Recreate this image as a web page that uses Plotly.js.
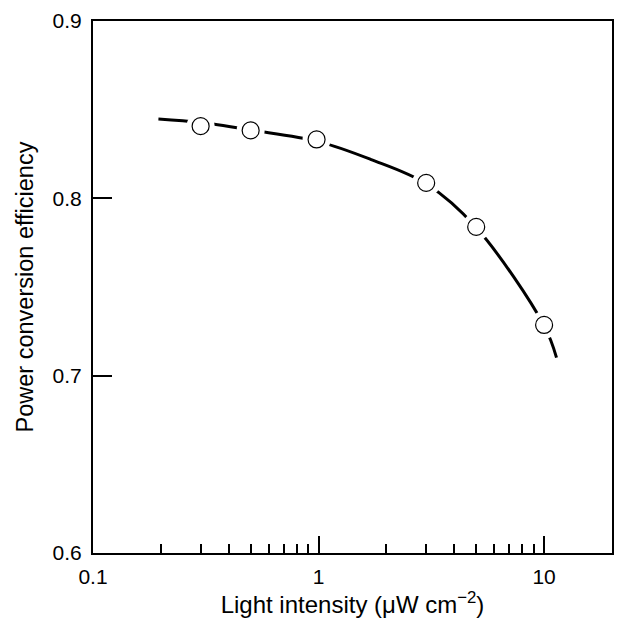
<!DOCTYPE html>
<html>
<head>
<meta charset="utf-8">
<script src="https://cdn.plot.ly/plotly-3.0.1.min.js"></script>
<style>html,body{margin:0;padding:0;background:#fff;}#chart{width:619px;height:620px;}</style>
</head>
<body>
<div id="chart"></div>
<script>
// Measured data points
const intensity = [0.3, 0.5, 0.98, 3, 5, 10];
const efficiency = [0.8407, 0.8383, 0.8332, 0.8087, 0.7839, 0.7286];
// Fitted curve as drawn in the figure
const curveX = [0.195, 0.3, 0.5, 1, 1.7, 3, 5, 10, 11.35];
const curveY = [0.8447, 0.8427, 0.8385, 0.832, 0.822, 0.8082, 0.7835, 0.7282, 0.7102];
// Axis ticks
const xTickVals = [0.1, 1, 10];
const xTickText = ['0.1', '1', '10'];
const xMinorVals = [0.2,0.3,0.4,0.5,0.6,0.7,0.8,0.9,2,3,4,5,6,7,8,9];
const yTickVals = [0.6, 0.7, 0.8, 0.9];
const yTickText = ['0.6', '0.7', '0.8', '0.9'];

const font = 'Liberation Sans, Arial, sans-serif';

const traces = [
  {x: curveX, y: curveY, mode: 'lines', line: {color: '#000', width: 3, shape: 'spline', smoothing: 1}, hoverinfo: 'skip', showlegend: false},
  {x: intensity, y: efficiency, mode: 'markers', marker: {symbol: 'circle', size: 28, color: '#fff', line: {width: 0}}, hoverinfo: 'skip', showlegend: false},
  {x: intensity, y: efficiency, mode: 'markers', marker: {symbol: 'circle', size: 17, color: '#fff', line: {color: '#000', width: 1.2}}, showlegend: false}
];

const layout = {
  width: 619, height: 620,
  margin: {l: 93, r: 7, t: 21, b: 67},
  paper_bgcolor: '#fff', plot_bgcolor: '#fff',
  font: {family: font, color: '#000', size: 21},
  showlegend: false,
  xaxis: {
    type: 'log', range: [-1, Math.log10(20)],
    tickvals: xTickVals, ticktext: xTickText,
    ticks: 'inside', ticklen: 17, tickwidth: 2, tickcolor: '#000',
    minor: {tickvals: xMinorVals, ticks: 'inside', ticklen: 9, tickwidth: 2, tickcolor: '#000', showgrid: false},
    showline: true, linewidth: 2, linecolor: '#000', mirror: true,
    showgrid: false, zeroline: false,
    ticklabelstandoff: 4,
    tickfont: {size: 21, family: font},
    title: {text: 'Light intensity (μW cm<sup>−2</sup>)', font: {size: 24, family: font}, standoff: 1}
  },
  yaxis: {
    range: [0.6, 0.9],
    tickvals: yTickVals, ticktext: yTickText,
    ticks: 'inside', ticklen: 19, tickwidth: 2, tickcolor: '#000',
    showline: true, linewidth: 2, linecolor: '#000', mirror: true,
    showgrid: false, zeroline: false,
    ticklabelstandoff: 5,
    tickfont: {size: 21, family: font},
    title: {text: 'Power conversion efficiency', font: {size: 23.5, family: font}, standoff: 12}
  }
};

Plotly.newPlot('chart', traces, layout, {displayModeBar: false, staticPlot: true});
</script>
</body>
</html>
